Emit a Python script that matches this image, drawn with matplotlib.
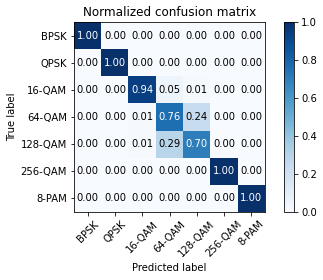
import matplotlib.pyplot as plt
import numpy as np

classes = ['BPSK', 'QPSK', '16-QAM', '64-QAM', '128-QAM', '256-QAM', '8-PAM']

# rows = true label, cols = predicted label
row_bpsk = [1.00, 0.00, 0.00, 0.00, 0.00, 0.00, 0.00]
row_qpsk = [0.00, 1.00, 0.00, 0.00, 0.00, 0.00, 0.00]
row_16qam = [0.00, 0.00, 0.94, 0.05, 0.01, 0.00, 0.00]
row_64qam = [0.00, 0.00, 0.01, 0.76, 0.24, 0.00, 0.00]
row_128qam = [0.00, 0.00, 0.01, 0.29, 0.70, 0.00, 0.00]
row_256qam = [0.00, 0.00, 0.00, 0.00, 0.00, 1.00, 0.00]
row_8pam = [0.00, 0.00, 0.00, 0.00, 0.00, 0.00, 1.00]

cm = np.array([row_bpsk, row_qpsk, row_16qam, row_64qam,
               row_128qam, row_256qam, row_8pam])

W, H = 323, 280
fig = plt.figure(figsize=(W / 72, H / 72), dpi=72)
ax = fig.add_axes([74 / W, 1 - 212 / H, 191 / W, 190 / H])
cax = fig.add_axes([284 / W, 1 - 212 / H, 10 / W, 190 / H])

im = ax.imshow(cm, interpolation='nearest', cmap=plt.cm.Blues, vmin=0, vmax=1,
               aspect='auto')
ax.set_title('Normalized confusion matrix')
fig.colorbar(im, cax=cax, ticks=[0.0, 0.2, 0.4, 0.6, 0.8, 1.0])

ticks = np.arange(len(classes))
ax.set_xticks(ticks)
ax.set_xticklabels(classes, rotation=45)
ax.set_yticks(ticks)
ax.set_yticklabels(classes)

thresh = cm.max() / 2.
for i in range(cm.shape[0]):
    for j in range(cm.shape[1]):
        ax.text(j, i, format(cm[i, j], '.2f'),
                horizontalalignment='center', verticalalignment='center',
                color='white' if cm[i, j] > thresh else 'black')

ax.set_ylabel('True label')
ax.set_xlabel('Predicted label')

fig.savefig('out.png', dpi=72)
